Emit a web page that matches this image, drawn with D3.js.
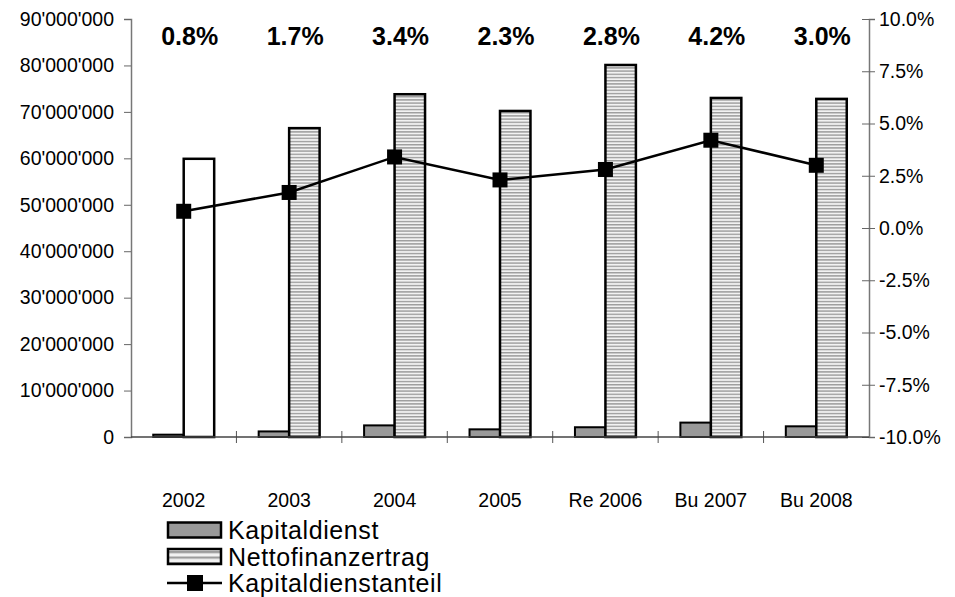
<!DOCTYPE html>
<html>
<head>
<meta charset="utf-8">
<script src="https://cdn.jsdelivr.net/npm/d3@7"></script>
<style>
  body { margin: 0; background: #fff; }
  text { font-family: Arial, "Liberation Sans", sans-serif; fill: #000; }
</style>
</head>
<body>
<div id="plotSect"></div>
<script>
// chart data //
let years = ["2002", "2003", "2004", "2005", "Re 2006", "Bu 2007", "Bu 2008"];
let kapitaldienst = [500000, 1200000, 2500000, 1650000, 2100000, 3100000, 2300000];
let nettofinanzertrag = [59900000, 66500000, 73800000, 70200000, 80100000, 73000000, 72800000];
let kapitaldienstanteil = [0.8, 1.7, 3.4, 2.3, 2.8, 4.2, 3.0];
let leftTicks = [0, 10000000, 20000000, 30000000, 40000000, 50000000, 60000000, 70000000, 80000000, 90000000];
let rightTicks = [-10, -7.5, -5, -2.5, 0, 2.5, 5, 7.5, 10];
let seriesNames = ["Kapitaldienst", "Nettofinanzertrag", "Kapitaldienstanteil"];

// Initial chart setup //
let SVGwidth = 955,
    SVGheight = 597,
    plotLeft = 131, plotRight = 869, plotTop = 19, plotBottom = 437;

let svg = d3.select("#plotSect").append("svg")
    .attr("width", SVGwidth)
    .attr("height", SVGheight);

let defs = svg.append("defs");
function stripes(id, h, dark) {
    let p = defs.append("pattern")
        .attr("id", id)
        .attr("patternUnits", "userSpaceOnUse")
        .attr("width", 8).attr("height", h);
    p.append("rect").attr("width", 8).attr("height", h).attr("fill", "#f2f2f2");
    p.append("rect").attr("y", 0).attr("width", 8).attr("height", dark).attr("fill", "#9c9c9c");
}
stripes("stripe", 3.2, 1.4);
stripes("stripeLegend", 5.5, 2.2);

let swiss = d3.formatLocale({decimal: ".", thousands: "'", grouping: [3], currency: ["", ""], minus: "-"});

let xScale = d3.scaleBand().domain(years).range([plotLeft, plotRight]);
let xSub = d3.scaleBand().domain(["k", "n"]).range([0, xScale.bandwidth()]).paddingOuter(0.73);
let yLeft = d3.scaleLinear().domain([0, 90000000]).range([plotBottom, plotTop]);
let yRight = d3.scaleLinear().domain([-10, 10]).range([plotBottom, plotTop]);

// axes
let leftAxis = svg.append("g")
    .attr("transform", "translate(" + plotLeft + ",0)")
    .call(d3.axisLeft(yLeft).tickValues(leftTicks).tickSize(7).tickPadding(10).tickFormat(swiss.format(",")));
leftAxis.selectAll("text").style("font-size", "19.5px");

let rightAxis = svg.append("g")
    .attr("transform", "translate(" + plotRight + ",0)")
    .call(d3.axisRight(yRight).tickValues(rightTicks).tickSize(6).tickPadding(4)
        .tickFormat(function(d) { return swiss.format(".1f")(d) + "%"; }));
rightAxis.selectAll("line").attr("x1", -7);
rightAxis.selectAll("text").style("font-size", "19.5px");

let xAxis = svg.append("g")
    .attr("transform", "translate(0," + plotBottom + ")")
    .call(d3.axisBottom(xScale).tickSize(0).tickPadding(56));
xAxis.selectAll("text").style("font-size", "19.5px");
xAxis.select(".domain").remove();
svg.append("g").selectAll("line")
    .data(years.slice(1))
    .enter().append("line")
    .attr("x1", function(d) { return xScale(d); })
    .attr("x2", function(d) { return xScale(d); })
    .attr("y1", plotBottom - 6)
    .attr("y2", plotBottom + 6)
    .attr("stroke", "#555");

[leftAxis, rightAxis].forEach(function(a) {
    a.selectAll("line").attr("stroke", "#666");
    a.select(".domain").attr("stroke", "#777").attr("stroke-width", 1.5);
});

// bars
let groups = svg.selectAll(".year")
    .data(years)
    .enter().append("g")
    .attr("class", "year")
    .attr("transform", function(d) { return "translate(" + xScale(d) + ",0)"; });

groups.append("rect")
    .attr("x", xSub("k"))
    .attr("y", function(d, i) { return yLeft(kapitaldienst[i]); })
    .attr("width", xSub.bandwidth())
    .attr("height", function(d, i) { return plotBottom - yLeft(kapitaldienst[i]); })
    .attr("fill", "#999")
    .attr("stroke", "#000")
    .attr("stroke-width", 2);

groups.append("rect")
    .attr("x", xSub("n"))
    .attr("y", function(d, i) { return yLeft(nettofinanzertrag[i]); })
    .attr("width", xSub.bandwidth())
    .attr("height", function(d, i) { return plotBottom - yLeft(nettofinanzertrag[i]); })
    .attr("fill", function(d, i) { return i == 0 ? "#fff" : "url(#stripe)"; })
    .attr("stroke", "#000")
    .attr("stroke-width", 2.5);

// x-axis line over the bars
svg.append("line")
    .attr("x1", plotLeft).attr("x2", plotRight)
    .attr("y1", plotBottom).attr("y2", plotBottom)
    .attr("stroke", "#444").attr("stroke-width", 1.5);

// line series
let cx = function(d, i) { return xScale(years[i]) + xScale.bandwidth() / 2; };
let line = d3.line()
    .x(cx)
    .y(function(d) { return yRight(d); });

svg.append("path")
    .datum(kapitaldienstanteil)
    .attr("d", line)
    .attr("fill", "none")
    .attr("stroke", "#000")
    .attr("stroke-width", 2.5);

svg.selectAll(".marker")
    .data(kapitaldienstanteil)
    .enter().append("rect")
    .attr("class", "marker")
    .attr("x", function(d, i) { return cx(d, i) - 7.5; })
    .attr("y", function(d) { return yRight(d) - 7.5; })
    .attr("width", 15)
    .attr("height", 15)
    .attr("fill", "#000");

// value labels at the top
svg.selectAll(".valLabel")
    .data(kapitaldienstanteil)
    .enter().append("text")
    .attr("class", "valLabel")
    .attr("x", function(d, i) { return cx(d, i) + 6; })
    .attr("y", 45)
    .style("text-anchor", "middle")
    .style("font-size", "25px")
    .style("font-weight", "bold")
    .text(function(d) { return d.toFixed(1) + "%"; });

// legend
let legend = svg.selectAll(".legend")
    .data(seriesNames)
    .enter().append("g")
    .attr("class", "legend")
    .attr("transform", function(d, i) { return "translate(167," + (530 + i * 26.5) + ")"; });

legend.each(function(d, i) {
    let g = d3.select(this);
    if (i < 2) {
        g.append("rect")
            .attr("x", 1).attr("y", -7.5)
            .attr("width", 53).attr("height", 15)
            .attr("fill", i == 0 ? "#999" : "url(#stripeLegend)")
            .attr("stroke", "#000")
            .attr("stroke-width", 2.5);
    } else {
        g.append("line")
            .attr("x1", 0).attr("x2", 55)
            .attr("y1", 0).attr("y2", 0)
            .attr("stroke", "#000").attr("stroke-width", 2.5);
        g.append("rect")
            .attr("x", 20).attr("y", -8)
            .attr("width", 16).attr("height", 16)
            .attr("fill", "#000");
    }
    g.append("text")
        .attr("x", 61)
        .attr("y", 0)
        .attr("dy", "0.36em")
        .style("font-size", "25px")
        .style("letter-spacing", "0.6px")
        .text(d);
});
</script>
</body>
</html>
